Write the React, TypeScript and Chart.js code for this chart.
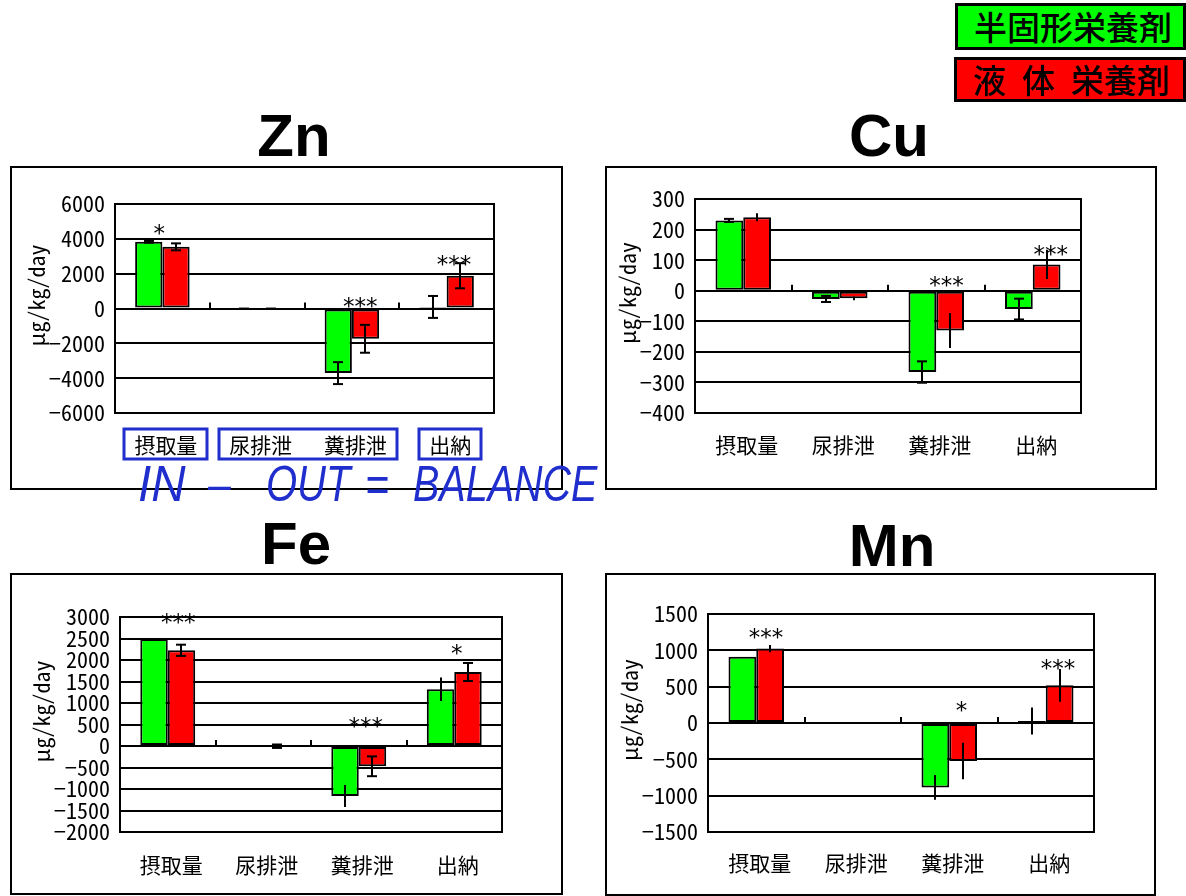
import React, { useEffect, useRef } from 'react';
import { Chart, registerables } from 'chart.js';

Chart.register(...registerables);

// ---- shared data ----
const categories = ['摂取量', '尿排泄', '糞排泄', '出納'];
const seriesLabels = ['半固形栄養剤', '液体栄養剤'];
const seriesColors = ['#00ff00', '#ff0000'];

// Zn (μg/kg/day): mean and SD per category
const znSemiSolid = [3830, -15, -3710, 90];
const znSemiSolidSd = [50, 12, 630, 630];
const znLiquid = [3540, -15, -1740, 1880];
const znLiquidSd = [200, 12, 800, 720];
const znAxis = [-6000, 6000, 2000];
const znStars = [
  { cat: 0, dx: -0.034, value: 4620, text: '*' },
  { cat: 2, dx: 0.089, value: 430, text: '***' },
  { cat: 3, dx: 0.079, value: 2840, text: '***' },
];

// Cu
const cuSemiSolid = [230, -27, -266, -60];
const cuSemiSolidSd = [5, 10, 35, 34];
const cuLiquid = [240, -25, -130, 86];
const cuLiquidSd = [13, 6, 57, 48];
const cuAxis = [-400, 300, 100];
const cuStars = [
  { cat: 2, dx: 0.106, value: 35, text: '***' },
  { cat: 3, dx: 0.187, value: 137, text: '***' },
];

// Fe
const feSemiSolid = [2490, 0, -1163, 1319];
const feSemiSolidSd = [0, 0, 255, 275];
const feLiquid = [2226, -5, -472, 1721];
const feLiquidSd = [130, 40, 230, 210];
const feAxis = [-2000, 3000, 500];
const feStars = [
  { cat: 0, dx: 0.109, value: 3000, text: '***' },
  { cat: 2, dx: 0.074, value: 581, text: '***' },
  { cat: 3, dx: 0.026, value: 2288, text: '*' },
];

// Mn
const mnSemiSolid = [910, -3, -886, 27];
const mnSemiSolidSd = [0, 0, 170, 185];
const mnLiquid = [1025, -3, -523, 519];
const mnLiquidSd = [50, 0, 250, 225];
const mnAxis = [-1500, 1500, 500];
const mnStars = [
  { cat: 0, dx: 0.1, value: 1252, text: '***' },
  { cat: 2, dx: 0.127, value: 246, text: '*' },
  { cat: 3, dx: 0.127, value: 825, text: '***' },
];

const yTitle = 'μg/kg/day';
const balanceWords = ['IN', '–', 'OUT', '=', 'BALANCE'];

// ---- fonts ----
const NUM_FONT = '"Noto Sans Mono CJK JP", "Liberation Sans", sans-serif';
const MONO_FONT = '"Noto Sans Mono CJK JP", "DejaVu Sans Mono", monospace';
const STAR_FONT = '"DejaVu Sans", sans-serif';
const CJK_FONT = '"Noto Sans CJK JP", sans-serif';
const BLUE = '#1f2ecc';

type Star = { cat: number; dx: number; value: number; text: string };
type PanelSpec = {
  title: string;
  titleX: number;
  titleBaseline: number;
  frame: number[]; // l, t, r, b (border line centres)
  plot: number[]; // l, t, r, b
  axis: number[];
  semi: number[];
  semiSd: number[];
  liquid: number[];
  liquidSd: number[];
  caps: boolean[];
  stars: Star[];
  labelGap: number;
  boxed: boolean;
};

const panels: PanelSpec[] = [
  {
    title: 'Zn', titleX: 294, titleBaseline: 157,
    frame: [11, 167, 562, 489], plot: [115, 204, 494, 413], axis: znAxis,
    semi: znSemiSolid, semiSd: znSemiSolidSd, liquid: znLiquid, liquidSd: znLiquidSd,
    caps: [true, true], stars: znStars, labelGap: 32, boxed: true,
  },
  {
    title: 'Cu', titleX: 889, titleBaseline: 157,
    frame: [606, 167, 1156, 489], plot: [695, 199, 1081, 413], axis: cuAxis,
    semi: cuSemiSolid, semiSd: cuSemiSolidSd, liquid: cuLiquid, liquidSd: cuLiquidSd,
    caps: [true, false], stars: cuStars, labelGap: 32, boxed: false,
  },
  {
    title: 'Fe', titleX: 296, titleBaseline: 565,
    frame: [11, 574, 562, 894], plot: [120, 617, 502, 832], axis: feAxis,
    semi: feSemiSolid, semiSd: feSemiSolidSd, liquid: feLiquid, liquidSd: feLiquidSd,
    caps: [false, true], stars: feStars, labelGap: 33, boxed: false,
  },
  {
    title: 'Mn', titleX: 892, titleBaseline: 567,
    frame: [606, 574, 1155, 895], plot: [708, 614, 1094, 832], axis: mnAxis,
    semi: mnSemiSolid, semiSd: mnSemiSolidSd, liquid: mnLiquid, liquidSd: mnLiquidSd,
    caps: [false, false], stars: mnStars, labelGap: 31, boxed: false,
  },
];

const LABEL_OFFSET = 3.5;
const X_FONT_SIZE = 21;
const Y_FONT_SIZE = 22;

function formatTick(v: number) {
  return v < 0 ? '\u2212' + Math.abs(v) : String(v);
}

function Panel({ spec }: { spec: PanelSpec }) {
  const ref = useRef<HTMLCanvasElement | null>(null);
  const [fl, ft, fr, fb] = spec.frame;
  const cl = fl + 1, ct = ft + 1, cw = fr - fl - 2, ch = fb - ft - 2;

  useEffect(() => {
    const canvas = ref.current;
    if (!canvas) return;
    const [pl, pt, pr, pb] = spec.plot;
    const sds = [spec.semiSd, spec.liquidSd];

    const overlay = {
      id: 'panelOverlay',
      afterDatasetsDraw(chart: any) {
        const { ctx, chartArea: a, scales } = chart;
        const x = scales.x, y = scales.y;
        ctx.save();
        ctx.strokeStyle = '#000';
        ctx.lineWidth = 2;
        const line = (x1: number, y1: number, x2: number, y2: number) => {
          ctx.beginPath();
          ctx.moveTo(x1, y1);
          ctx.lineTo(x2, y2);
          ctx.stroke();
        };
        // plot frame
        ctx.strokeRect(a.left, a.top, a.right - a.left, a.bottom - a.top);
        // category boundary marks on the zero line
        const y0 = y.getPixelForValue(0);
        const catW = (a.right - a.left) / categories.length;
        for (let i = 1; i < categories.length; i++) {
          const px = Math.round(a.left + i * catW);
          line(px, y0, px, y0 - 6);
        }
        // error bars (± SD)
        chart.data.datasets.forEach((ds: any, di: number) => {
          const meta = chart.getDatasetMeta(di);
          meta.data.forEach((bar: any, i: number) => {
            const e = sds[di][i];
            if (!e) return;
            const v = ds.data[i];
            const yt = y.getPixelForValue(v + e);
            const yb = y.getPixelForValue(v - e);
            const bx = Math.round(bar.x);
            line(bx, yt, bx, yb);
            if (spec.caps[di]) {
              line(bx - 5, yt, bx + 5, yt);
              line(bx - 5, yb, bx + 5, yb);
            }
          });
        });
        // significance marks
        ctx.fillStyle = '#000';
        ctx.font = `23px ${STAR_FONT}`;
        ctx.textAlign = 'center';
        ctx.textBaseline = 'alphabetic';
        spec.stars.forEach((s) => {
          const sx = x.getPixelForValue(s.cat) + s.dx * catW;
          const sy = y.getPixelForValue(s.value);
          ctx.fillText(s.text, sx, sy + 13);
        });
        ctx.restore();
      },
      afterDraw(chart: any) {
        const { ctx, chartArea: a, scales } = chart;
        const x = scales.x, y = scales.y;
        ctx.save();
        // y-axis title, placed left of the widest tick label
        ctx.font = `${Y_FONT_SIZE}px ${NUM_FONT}`;
        let widest = 0;
        y.ticks.forEach((t: any) => {
          widest = Math.max(widest, ctx.measureText(formatTick(t.value)).width);
        });
        const tx = a.left - 10 - widest - 12;
        const ty = (a.top + a.bottom) / 2 - 13;
        ctx.translate(tx, ty);
        ctx.rotate(-Math.PI / 2);
        ctx.font = `22px ${MONO_FONT}`;
        ctx.fillStyle = '#000';
        ctx.textAlign = 'center';
        ctx.textBaseline = 'middle';
        ctx.fillText(yTitle, 0, 0);
        ctx.setTransform(1, 0, 0, 1, 0, 0);
        // blue outline boxes grouping the category labels
        if (spec.boxed) {
          ctx.font = `${X_FONT_SIZE}px ${CJK_FONT}`;
          ctx.strokeStyle = BLUE;
          ctx.lineWidth = 3;
          const cy = a.bottom + spec.labelGap;
          const groups = [[0, 0], [1, 2], [3, 3]];
          groups.forEach(([s, e]) => {
            const ws = ctx.measureText(categories[s]).width;
            const we = ctx.measureText(categories[e]).width;
            const left = x.getPixelForTick(s) + LABEL_OFFSET - ws / 2 - 10;
            const right = x.getPixelForTick(e) + LABEL_OFFSET + we / 2 + 10;
            ctx.strokeRect(Math.round(left), Math.round(cy - 16), Math.round(right - left), 30);
          });
        }
        ctx.restore();
      },
    };

    const chart = new Chart(canvas, {
      type: 'bar',
      data: {
        labels: categories,
        datasets: [
          {
            label: seriesLabels[0], data: spec.semi, backgroundColor: seriesColors[0],
            borderColor: '#000', borderWidth: 2, borderSkipped: false,
            categoryPercentage: 0.575, barPercentage: 1,
          },
          {
            label: seriesLabels[1], data: spec.liquid, backgroundColor: seriesColors[1],
            borderColor: '#000', borderWidth: 2, borderSkipped: false,
            categoryPercentage: 0.575, barPercentage: 1,
          },
        ],
      },
      options: {
        responsive: false,
        maintainAspectRatio: false,
        animation: false,
        devicePixelRatio: 1,
        layout: { padding: { left: 0, top: pt - ct, right: cl + cw - pr, bottom: 0 } },
        plugins: { legend: { display: false }, tooltip: { enabled: false } },
        scales: {
          x: {
            grid: { display: false, drawTicks: false },
            border: { display: false },
            ticks: {
              color: '#000',
              font: { family: CJK_FONT, size: X_FONT_SIZE, lineHeight: 1.2 },
              padding: spec.labelGap - X_FONT_SIZE * 0.6,
              labelOffset: LABEL_OFFSET,
              maxRotation: 0,
              autoSkip: false,
            },
            afterFit: (s: any) => { s.height = ct + ch - pb; },
          },
          y: {
            min: spec.axis[0],
            max: spec.axis[1],
            grid: { color: '#000', lineWidth: 2, drawTicks: false },
            border: { display: false },
            ticks: {
              stepSize: spec.axis[2],
              autoSkip: false,
              maxTicksLimit: 30,
              padding: 10,
              color: '#000',
              font: { family: NUM_FONT, size: Y_FONT_SIZE, lineHeight: 1 },
              callback: (v: any) => formatTick(Number(v)),
            },
            afterFit: (s: any) => { s.width = pl - cl; },
          },
        },
      } as any,
      plugins: [overlay],
    });
    return () => chart.destroy();
  }, [spec]);

  return (
    <>
      <canvas
        ref={ref}
        width={cw}
        height={ch}
        style={{ position: 'absolute', left: cl, top: ct, width: cw, height: ch }}
      />
      <div
        style={{
          position: 'absolute', left: fl - 1, top: ft - 1, width: fr - fl + 2, height: fb - ft + 2,
          border: '2px solid #000', boxSizing: 'border-box', pointerEvents: 'none',
        }}
      />
      <div
        style={{
          position: 'absolute', left: spec.titleX - 100, top: spec.titleBaseline - 50.8, width: 200,
          textAlign: 'center', font: 'bold 60px "Liberation Sans", Arial, sans-serif', lineHeight: '60px',
          color: '#000',
        }}
      >
        {spec.title}
      </div>
    </>
  );
}

function LegendBox({ left, top, width, height, color, children }: any) {
  return (
    <div
      style={{
        position: 'absolute', left, top, width, height, background: color,
        border: '3px solid #000', boxSizing: 'border-box', display: 'flex', alignItems: 'center',
        paddingLeft: 16, font: `500 33px ${CJK_FONT}`, lineHeight: 1, color: '#000', whiteSpace: 'pre',
      }}
    >
      {children}
    </div>
  );
}

// word positions of the balance equation (left edges)
const balanceLefts = [138, 208, 266, 365, 413];
const balanceScale = [0.95, 0.82, 0.8, 0.82, 0.79];

export default function App() {
  return (
    <div
      style={{
        position: 'absolute', left: 0, top: 0, width: 1186, height: 896, overflow: 'hidden',
        background: '#fff',
      }}
    >
      {panels.map((p) => (
        <Panel key={p.title} spec={p} />
      ))}
      <LegendBox left={955} top={3} width={231} height={47} color={seriesColors[0]}>
        {seriesLabels[0]}
      </LegendBox>
      <LegendBox left={954} top={57} width={232} height={45} color={seriesColors[1]}>
        <span style={{ marginRight: 16 }}>{'液'}</span>
        <span style={{ marginRight: 16 }}>{'体'}</span>
        <span>{'栄養剤'}</span>
      </LegendBox>
      {balanceWords.map((w, i) => (
        <div
          key={w + i}
          style={{
            position: 'absolute', left: balanceLefts[i], top: 459, whiteSpace: 'pre',
            font: 'italic 50px "Liberation Sans", Arial, sans-serif', lineHeight: '50px',
            color: BLUE, transform: `scaleX(${balanceScale[i]})`, transformOrigin: 'left top',
          }}
        >
          {w}
        </div>
      ))}
    </div>
  );
}
